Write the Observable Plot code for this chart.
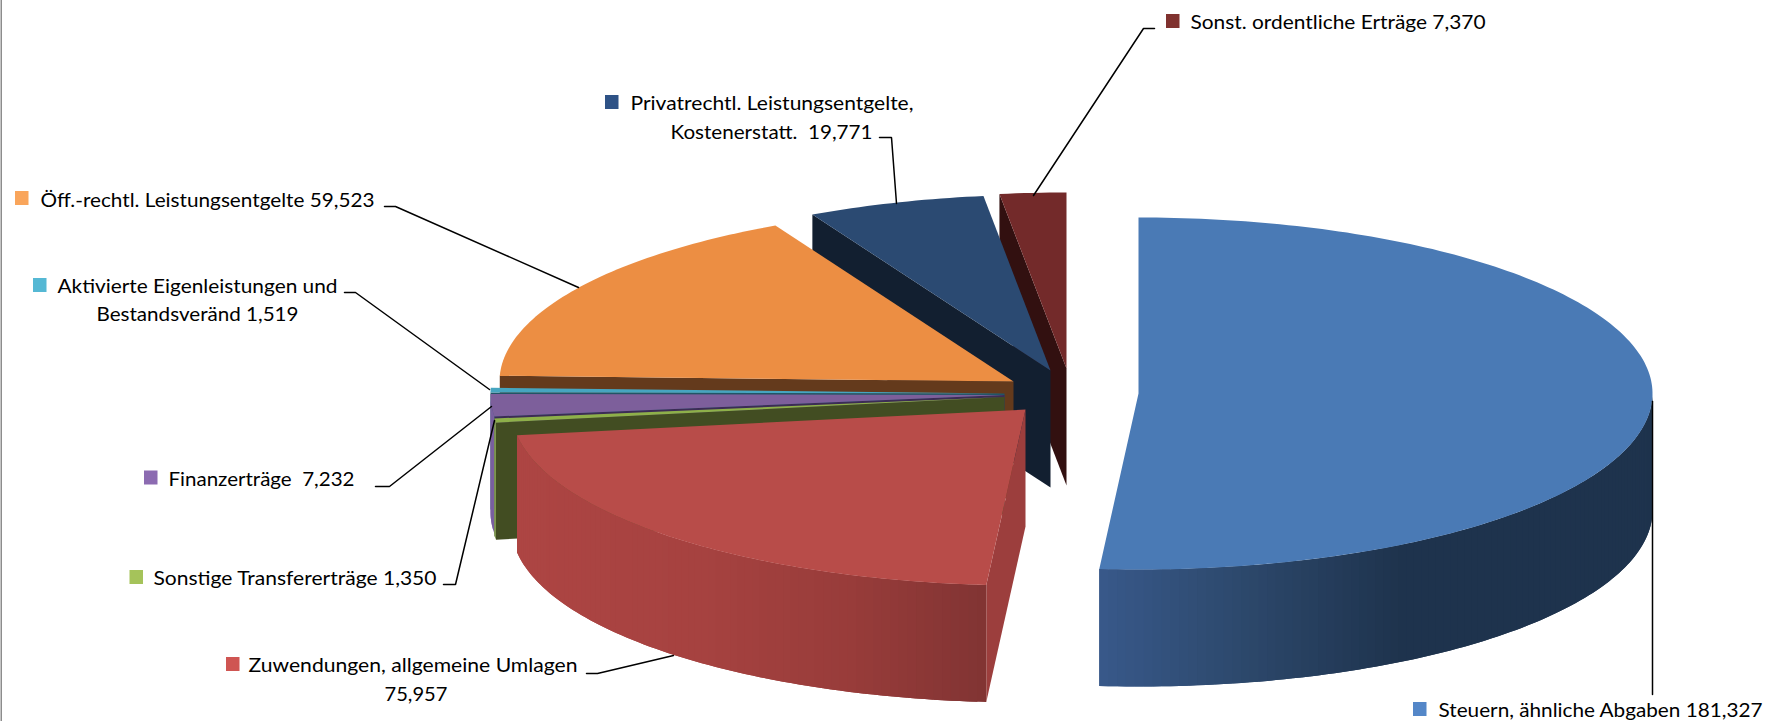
<!DOCTYPE html>
<html lang="de">
<head>
<meta charset="utf-8">
<title>Erträge</title>
<script src="https://cdn.jsdelivr.net/npm/d3@7"></script>
<script src="https://cdn.jsdelivr.net/npm/@observablehq/plot@0.6"></script>
<style>
  html, body { margin: 0; padding: 0; background: #fff; }
  svg { display: block; }
  svg text { white-space: pre; }
</style>
</head>
<body>
<div id="chart"></div>
<script>
// --- Data, in drawing order clockwise from 12 o'clock ---
const categories = ["Steuern, ähnliche Abgaben", "Zuwendungen, allgemeine Umlagen", "Sonstige Transfererträge", "Finanzerträge", "Aktivierte Eigenleistungen und Bestandsveränd", "Öff.-rechtl. Leistungsentgelte", "Privatrechtl. Leistungsentgelte, Kostenerstatt.", "Sonst. ordentliche Erträge"];
const values = [181327, 75957, 1350, 7232, 1519, 59523, 19771, 7370];
const labelLines = [
  ["Steuern, ähnliche Abgaben 181,327"],
  ["Zuwendungen, allgemeine Umlagen", "75,957"],
  ["Sonstige Transfererträge 1,350"],
  ["Finanzerträge  7,232"],
  ["Aktivierte Eigenleistungen und", "Bestandsveränd 1,519"],
  ["Öff.-rechtl. Leistungsentgelte 59,523"],
  ["Privatrechtl. Leistungsentgelte,", "Kostenerstatt.  19,771"],
  ["Sonst. ordentliche Erträge 7,370"]
];

// --- Colours ---
const topColors = ["#4a7ab5", "#b84c49", "#8eb04a", "#7d5f9b", "#46a5c0", "#ec8e43", "#2b4a72", "#732a2a"];
const cutColors = ["#1f3550", "#9c3e3d", "#424d22", "#3c2c55", "#215566", "#643a1c", "#121f30", "#321010"];
const swatchColors = ["#5487c8", "#cf5552", "#a5c35a", "#8c6bb1", "#55b8d4", "#f9a55b", "#2e5286", "#80322f"];
const rimStops = [
  {x: [1099, 1250, 1400, 1652], c: ["#38598a", "#2c476a", "#1e334d", "#1e334d"]},
  {x: [515, 700, 850, 986], c: ["#ad4543", "#a64240", "#983c3a", "#813433"]},
  {x: [490, 500], c: ["#7d9550", "#7d9550"]},
  {x: [480, 500], c: ["#7a60a0", "#7a60a0"]},
  {x: [480, 500], c: ["#46a5c0", "#46a5c0"]},
  {x: [480, 500], c: ["#643a1c", "#643a1c"]},
  {x: [480, 500], c: ["#121f30", "#121f30"]},
  {x: [480, 500], c: ["#321010", "#321010"]}
];

// --- Pie layout ---
const W = 1769, H = 721;
const rx = 514, ry = 176, depth = 117;
const apexes = [[1138, 393], [1025, 409], [1004, 396.5], [1004, 394.5], [1004, 393], [1013, 381], [1050, 370], [1066, 368]];
const paintOrder = [7, 6, 5, 4, 3, 2, 1, 0];

// --- Annotation layout ---
const swatchBoxes = [[1413, 702], [226, 657], [129.5, 570], [144, 470.5], [33, 278], [15, 191], [605, 95], [1166, 14]];
const textAnchors = [
  [[1438, 710]],
  [[248, 665], [384, 694]],
  [[153, 578]],
  [[168, 479]],
  [[57, 286], [96, 314]],
  [[40, 200]],
  [[630, 103], [670, 132]],
  [[1190, 22]]
];
const textWidths = [[324], [329, 63], [283], [186], [280, 202], [334], [283, 202], [295]];
const leaders = [
  [[1652, 401], [1652, 694]],
  [[586, 673], [597, 673], [673, 655]],
  [[443, 584], [455, 584], [494, 420]],
  [[375, 486], [389, 486], [491, 406]],
  [[344, 292], [355, 292], [489, 389]],
  [[384, 206], [395, 206], [578, 287]],
  [[879, 137], [891, 137], [896, 203]],
  [[1154, 28], [1143, 28], [1033, 195]]
];

// --- Geometry derived from the values ---
const total = d3.sum(values);
const cum = [0, ...d3.cumsum(values)];
const angleOf = v => v / total * 2 * Math.PI;
const slices = values.map((v, i) => ({i, a0: angleOf(cum[i]), a1: angleOf(cum[i + 1])}));
const rimPt = (i, a, drop = 0) => [apexes[i][0] + rx * Math.sin(a), apexes[i][1] - ry * Math.cos(a) + drop];
const STEP = Math.PI / 180;
function arc(a0, a1) {
  const n = Math.max(1, Math.ceil((a1 - a0) / STEP));
  return d3.range(n + 1).map(k => a0 + (a1 - a0) * k / n);
}

const faces = [];
let fid = 0;
function addFace(pts, fill) {
  const id = fid++;
  for (const [x, y] of pts) faces.push({id, x, y, fill});
}
for (const i of paintOrder) {
  const {a0, a1} = slices[i];
  const [ax, ay] = apexes[i];
  // cut face on the side turned to the viewer
  if (i !== 0) {
    addFace([[ax, ay], rimPt(i, a0), rimPt(i, a0, depth), [ax, ay + depth]], cutColors[i]);
  }
  // outer wall on the front half, as narrow bands with a gradient along x;
  // each band runs under the next one so no seams show
  const r0 = Math.max(a0, Math.PI / 2), r1 = Math.min(a1, 3 * Math.PI / 2);
  if (r1 > r0) {
    const colorOf = d3.scaleLinear().domain(rimStops[i].x).range(rimStops[i].c).interpolate(d3.interpolateRgb).clamp(true);
    const as = arc(r0, r1);
    for (let k = 0; k < as.length - 1; k++) {
      const b0 = as[k], b1 = as[Math.min(k + 2, as.length - 1)];
      const mx = rimPt(i, (as[k] + as[k + 1]) / 2)[0];
      const band = arc(b0, b1);
      addFace([...band.map(a => rimPt(i, a)), ...band.reverse().map(a => rimPt(i, a, depth))], colorOf(mx));
    }
  }
  // top face
  addFace([[ax, ay], ...arc(a0, a1).map(a => rimPt(i, a))], topColors[i]);
}

const leaderRows = leaders.flatMap((pts, i) => pts.map(([x, y]) => ({i, x, y})));
const textRows = labelLines.flatMap((lines, i) => lines.map((t, k) => ({t, x: textAnchors[i][k][0], y: textAnchors[i][k][1], w: textWidths[i][k]})));
const swatchRows = swatchBoxes.map(([x, y], i) => ({x1: x, x2: x + 13.5, y1: y, y2: y + 14, fill: swatchColors[i], name: categories[i]}));

const chart = Plot.plot({
  width: W, height: H,
  margin: 0,
  style: {background: "#fff", overflow: "visible"},
  x: {domain: [0, W], range: [0, W], axis: null},
  y: {domain: [0, H], range: [0, H], axis: null},
  color: {type: "identity"},
  marks: [
    Plot.ruleX([0.75], {stroke: "#8c8c8c", strokeWidth: 1.5}),
    Plot.line(faces, {x: "x", y: "y", z: "id", fill: "fill", stroke: null, curve: "linear-closed"}),
    Plot.line(leaderRows, {x: "x", y: "y", z: "i", stroke: "#000", strokeWidth: 1.5, strokeLinejoin: "miter"}),
    Plot.rect(swatchRows, {x1: "x1", x2: "x2", y1: "y1", y2: "y2", fill: "fill"}),
    Plot.text(textRows, {
      x: "x", y: "y", text: "t", textAnchor: "start", fontFamily: "Lato", fontSize: 20, fill: "#000",
      render(index, scales, values, dimensions, context, next) {
        const g = next(index, scales, values, dimensions, context);
        // stretch each label to the width it has in the reference
        d3.select(g).selectAll("text")
          .attr("lengthAdjust", "spacingAndGlyphs")
          .attr("textLength", (_, k) => textRows[index[k]].w);
        return g;
      }
    })
  ]
});
document.getElementById("chart").append(chart);
</script>
</body>
</html>
